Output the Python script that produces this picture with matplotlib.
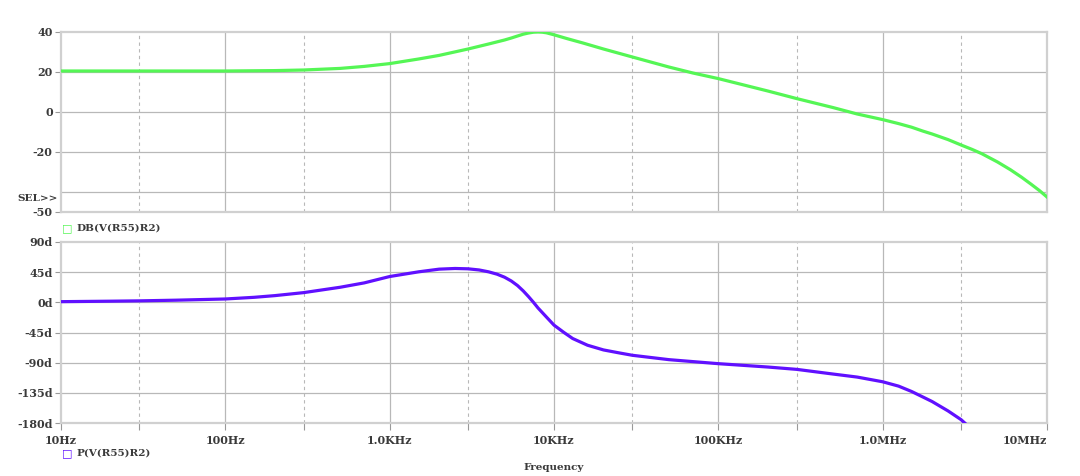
import numpy as np
import matplotlib
matplotlib.use("Agg")
import matplotlib.pyplot as plt

# ---- data ----
mag_freq = [10, 20, 50, 100, 200, 300, 500, 700, 1000, 1500, 2000, 3000, 4000,
            5000, 5500, 6000, 6500, 7000, 7500, 8000, 8500, 9000, 10000, 12000,
            15000, 20000, 30000, 50000, 70000, 100000, 200000, 300000, 500000,
            700000, 1e6, 1.25e6, 1.5e6, 1.75e6, 2e6, 2.5e6, 3e6, 3.5e6, 4e6,
            5e6, 6e6, 7e6, 8e6, 9e6, 1e7]
mag_db = [20.5, 20.5, 20.5, 20.5, 20.7, 21.0, 21.8, 22.8, 24.2, 26.5, 28.3,
          31.5, 34.0, 36.0, 37.0, 38.0, 38.9, 39.5, 39.9, 40.0, 39.9, 39.6,
          38.6, 36.7, 34.5, 31.5, 27.5, 22.5, 19.5, 16.7, 10.5, 6.7, 2.2,
          -1.0, -3.8, -5.8, -7.6, -9.5, -11.0, -13.8, -16.5, -18.7, -20.8,
          -25.0, -28.9, -32.6, -36.1, -39.3, -42.5]

ph_freq = [10, 20, 30, 50, 100, 150, 200, 300, 500, 700, 1000, 1500, 2000,
           2500, 3000, 3500, 4000, 4500, 5000, 5500, 6000, 6500, 7000, 7500,
           8000, 9000, 10000, 11500, 13000, 16000, 20000, 25000, 30000, 50000,
           100000, 200000, 300000, 500000, 700000, 1e6, 1.25e6, 1.5e6, 1.75e6,
           2e6, 2.5e6, 3e6, 3.5e6]
ph_deg = [1.0, 1.7, 2.2, 3.2, 5.0, 7.5, 10.0, 14.5, 22.5, 29.0, 38.5, 45.5,
          49.5, 50.5, 50.0, 48.3, 45.5, 42.0, 37.5, 31.8, 25.0, 17.0, 8.5, 0.0,
          -8.5, -22.0, -34.0, -45.0, -54.0, -64.0, -71.0, -75.5, -79.0, -85.5,
          -91.5, -96.5, -100.0, -107.0, -111.5, -118.5, -125.0, -133.0, -141.0,
          -148.0, -162.0, -175.0, -190.0]

x_ticks = [10, 100, 1e3, 1e4, 1e5, 1e6, 1e7]
x_ticklabels = ["10Hz", "100Hz", "1.0KHz", "10KHz", "100KHz", "1.0MHz", "10MHz"]
x_dashed = [30, 300, 3e3, 3e4, 3e5, 3e6]

top_yticks = [-50, -20, 0, 20, 40]
top_ylabels = ["-50", "-20", "0", "20", "40"]
top_extra_grid = [-40]
bot_yticks = [-180, -135, -90, -45, 0, 45, 90]
bot_ylabels = ["-180d", "-135d", "-90d", "-45d", "0d", "45d", "90d"]

mag_name = "DB(V(R55)R2)"
ph_name = "P(V(R55)R2)"
green = "#55f655"
purple = "#6010ff"

FONT = "DejaVu Serif"
TXT = "#3a3a3a"
GRID = "#b8b8b8"
SPINE = "#d0d0d0"

fig = plt.figure(figsize=(10.8, 4.76), dpi=100)
ax1 = fig.add_axes([61/1080, 1-212/476, 986/1080, 180/476])
ax2 = fig.add_axes([61/1080, 1-423/476, 986/1080, 181/476])


def style(ax):
    ax.set_xscale("log")
    ax.set_xlim(10, 1e7)
    for s in ax.spines.values():
        s.set_color(SPINE)
        s.set_linewidth(1.6)
    ax.minorticks_off()
    for xv in x_ticks[1:-1]:
        ax.axvline(xv, color=GRID, lw=0.9, zorder=1)
    for xv in x_dashed:
        ax.axvline(xv, color=GRID, lw=0.8, ls=(0, (3, 3)), zorder=1)
    ax.tick_params(axis="y", direction="out", length=4, width=0.8,
                   color="#999999", labelsize=8, labelcolor=TXT, pad=2)


style(ax1)
ax1.set_ylim(-50, 40)
ax1.set_yticks(top_yticks)
ax1.set_yticklabels(top_ylabels, fontfamily=FONT, fontweight="bold")
for yv in top_yticks[1:-1] + top_extra_grid:
    ax1.axhline(yv, color=GRID, lw=0.9, zorder=1)
ax1.set_xticks([])
ax1.plot(mag_freq, mag_db, color=green, lw=2.3, zorder=3, clip_on=True)

style(ax2)
ax2.set_ylim(-180, 90)
ax2.set_yticks(bot_yticks)
ax2.set_yticklabels(bot_ylabels, fontfamily=FONT, fontweight="bold")
for yv in bot_yticks[1:-1]:
    ax2.axhline(yv, color=GRID, lw=0.9, zorder=1)
ax2.set_xticks(x_ticks + x_dashed)
ax2.set_xticklabels(x_ticklabels + [""] * len(x_dashed),
                    fontfamily=FONT, fontweight="bold")
ax2.tick_params(axis="x", direction="out", length=5, width=0.8,
                color="#999999", labelsize=8, labelcolor=TXT, pad=4)
lbls = ax2.get_xticklabels()
lbls[len(x_ticks) - 1].set_horizontalalignment("right")
ax2.plot(ph_freq, ph_deg, color=purple, lw=2.3, zorder=3, clip_on=True)

# legends / labels
fig.text(62/1080, 1-228/476, "\u25a1", color=green, fontsize=8,
         va="center", ha="left", family="DejaVu Sans")
fig.text(76/1080, 1-228/476, mag_name, color=TXT, fontsize=7.5,
         va="center", ha="left", family=FONT, fontweight="bold")
fig.text(62/1080, 1-453/476, "\u25a1", color=purple, fontsize=8,
         va="center", ha="left", family="DejaVu Sans")
fig.text(76/1080, 1-453/476, ph_name, color=TXT, fontsize=7.5,
         va="center", ha="left", family=FONT, fontweight="bold")
fig.text(58/1080, 1-198/476, "SEL>>", color=TXT, fontsize=7.5,
         va="center", ha="right", family=FONT, fontweight="bold")
fig.text(554/1080, 1-467/476, "Frequency", color=TXT, fontsize=7.5,
         va="center", ha="center", family=FONT, fontweight="bold")

fig.savefig("out.png", dpi=100, facecolor="white")
